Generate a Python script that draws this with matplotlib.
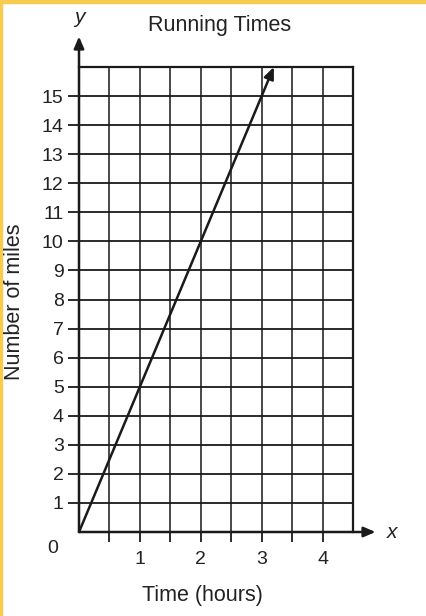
import matplotlib
matplotlib.use("Agg")
import matplotlib.pyplot as plt
from matplotlib.patches import Rectangle

plt.rcParams['font.family'] = ['Liberation Sans', 'DejaVu Sans']

title = "Running Times"
xlabel = "Time (hours)"
ylabel = "Number of miles"
hours = [0, 3.2]
miles = [0, 16]
x_tick_labels = ["1", "2", "3", "4"]
x_label_positions = [1, 2, 3, 4]
y_tick_values = list(range(1, 16))

W, H = 427, 616
fig = plt.figure(figsize=(W / 100, H / 100), dpi=100)

# yellow border (top and left)
fig.patches.append(Rectangle((0, 1 - 3 / H), 1, 3 / H, transform=fig.transFigure,
                             color='#F7CB4D', zorder=0))
fig.patches.append(Rectangle((0, 0), 2 / W, 1, transform=fig.transFigure,
                             color='#F7CB4D', zorder=0))

x0, x1, y0, y1 = 79, 353, 532, 67
ax = fig.add_axes([x0 / W, 1 - y0 / H, (x1 - x0) / W, (y0 - y1) / H])
ax.set_xlim(0, 4.5)
ax.set_ylim(0, 16)

lc = '#1a1a1a'
tc = '#222222'
for v in [i * 0.5 for i in range(1, 9)]:
    ax.axvline(v, color='#3a3a3a', lw=1.3, zorder=1)
for v in range(1, 16):
    ax.axhline(v, color=lc, lw=1.3, zorder=1)

for s in ['top', 'right']:
    ax.spines[s].set_color(lc)
    ax.spines[s].set_linewidth(1.6)
for s in ['left', 'bottom']:
    ax.spines[s].set_visible(False)

# ticks
ax.set_yticks(y_tick_values)
ax.set_yticklabels([str(v) for v in y_tick_values])
ax.set_xticks([i * 0.5 for i in range(1, 9)])
ax.set_xticklabels([""] * 8)
ax.tick_params(axis='y', direction='out', length=8, width=1.3, color=lc,
               labelsize=14, pad=3, labelcolor=tc)
ax.tick_params(axis='x', direction='out', length=7.5, width=1.3, color=lc)
for xv, lab in zip(x_label_positions, x_tick_labels):
    ax.text(xv, -0.95, lab, ha='center', va='center', fontsize=14,
            color=tc, clip_on=False)
ax.text(-0.44, -0.58, "0", ha='center', va='center', fontsize=14,
        color=tc, clip_on=False)

# axes arrows
arrow = dict(arrowstyle='-|>,head_length=0.7,head_width=0.3',
             color=lc, lw=1.8, shrinkA=0, shrinkB=0)
ax.annotate("", xy=(0, 17.05), xytext=(0, 0), arrowprops=arrow,
            annotation_clip=False, zorder=3)
ax.annotate("", xy=(4.87, 0), xytext=(0, 0), arrowprops=arrow,
            annotation_clip=False, zorder=3)
ax.text(0, 17.7, "y", style='italic', ha='center', va='center', fontsize=15,
        color=tc, clip_on=False)
ax.text(5.15, 0, "x", style='italic', ha='center', va='center', fontsize=15,
        color=tc, clip_on=False)

# data line
ax.annotate("", xy=(hours[1], miles[1]), xytext=(hours[0], miles[0]),
            arrowprops=arrow, annotation_clip=False, zorder=4)

fig.text(220 / W, 1 - 25 / H, title, ha='center', va='center', fontsize=15.5,
         color=tc)
fig.text(202 / W, 1 - 596 / H, xlabel, ha='center', va='center', fontsize=15.5,
         color=tc)
fig.text(15 / W, 1 - 302 / H, ylabel, ha='center', va='center', fontsize=15.5,
         rotation=90, color=tc)

fig.savefig("out.png", dpi=100)
